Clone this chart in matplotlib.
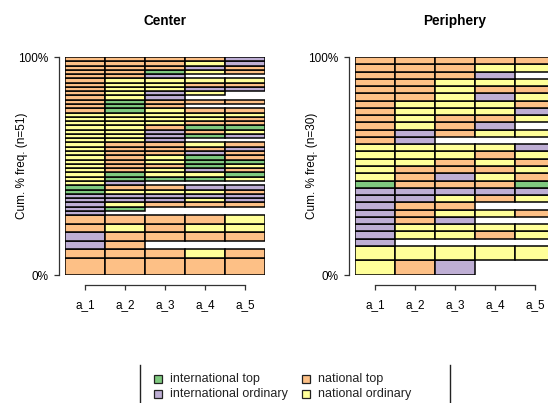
import matplotlib
matplotlib.use("Agg")
import matplotlib.pyplot as plt
from matplotlib.patches import Rectangle
from matplotlib.lines import Line2D

plt.rcParams["font.family"] = ["Liberation Sans", "DejaVu Sans"]

# state alphabet and colours (Accent palette)
states = ["IT", "IO", "NT", "NO"]
state_labels = ["international top", "international ordinary",
                "national top", "national ordinary"]
state_colors = ["#7FC97F", "#BEAED4", "#FDC086", "#FFFF99"]
positions = ["a_1", "a_2", "a_3", "a_4", "a_5"]

# distinct sequences, most frequent first (drawn from the bottom up)
center_seqs = [
    "NT-NT-NT-NT-NT", "NT-NT-NT-NO-NT", "IO-NT", "IO-NT-NT-NT-NT",
    "NT-NO-NT-NO-NO", "NT-NT-NT-NT-NO",
    "IO", "IO-IT", "IO-NO-NT-NT-NT", "IO-IO-IO-NO-IO", "IO-IO-IO-IO-IO",
    "IT-NO-NO-NO-NT", "IT-NT-NT-IO-IO", "NO-IO", "NO-IT-IT-IT-NO",
    "NO-IT-NO-NO-IT", "NO-NT-NO-IO-NT", "NO-NT-NT-IT-NO", "NO-NT-NO-IT-IT",
    "NO-NT-NO-IT-NT", "NO-NT-NT-IO-NT", "NO-NT-NT-NT-IO", "NO-NT-NT-NO-NT",
    "NO-NO-IO", "NO-NO-IO-IT-IO", "NO-NO-IO-NT-NO", "NO-NO-NT-IT-IT",
    "NO-NO-NO-NT-NT", "NO-NO-NO-NO-NT", "NO-NO-NO-NO-NO", "NT-IT-NO-NT-NT",
    "NT-IT-NT", "NT-IT-NT-NT-NT", "NT-NO-IO", "NT-NO-IO-NO",
    "NT-NO-NO-IO-IO", "NT-NO-NO-NT-NT", "NT-NO-NO-NO-NO", "NT-NT-IO",
    "NT-NT-IT-NO-NT", "NT-NT-NT-IO-NT", "NT-NT-NT-NO-IO", "NT-NT-NT-NT-IO",
]
center_freq = [4, 2, 2, 2, 2, 2] + [1] * 37

periphery_seqs = [
    "NO-NT-IO", "NO-NO-NO-NO-NO",
    "IO", "IO-NO-NO-NT-NO", "IO-NO-NO-NO-NO", "IO-NT-IO", "IO-NT-NO-NO-NT",
    "IO-NT-NT", "IO-IO-NO-NT-NO", "IO-IO-IO-IO-IO", "IT-NT-NT-NT-IT",
    "NO-NT-IO-NO-NT", "NO-NT-NT-NT-NO", "NO-NO-NT-NO-NT", "NO-NO-NO-NT-NO",
    "NO-NO-NO-NO-IO", "NT-IO", "NT-IO-NT-NO-NO", "NT-NO-NT-IO",
    "NT-NO-NT-NT-NO", "NT-NO-NO-NO-IO", "NT-NO-NO-NO-NT", "NT-NT-NO-IO-NO",
    "NT-NT-NO-NT-NT", "NT-NT-NO-NO-NO", "NT-NT-NT-IO", "NT-NT-NT-NO-NO",
    "NT-NT-NT-NT-NT",
]
periphery_freq = [2, 2] + [1] * 26

W, H = 548, 403
fig = plt.figure(figsize=(W / 100, H / 100), dpi=100)


def px_box(x0, y0, x1, y1):
    return [x0 / W, 1 - y1 / H, (x1 - x0) / W, (y1 - y0) / H]


def seq_freq_plot(ax, seqs, freq, title):
    n = sum(freq)
    color_of = dict(zip(states, state_colors))
    bottom = 0.0
    for seq, f in zip(seqs, freq):
        h = f / n
        tokens = seq.split("-")
        ax.bar(range(len(tokens)), h, bottom=bottom, width=1, align="edge",
               color=[color_of[t] for t in tokens],
               edgecolor="black", linewidth=1.1)
        bottom += h
    ax.set_xlim(0, 5)
    ax.set_ylim(0, 1)
    for s in ["top", "right"]:
        ax.spines[s].set_visible(False)
    ax.spines["left"].set_position(("outward", 4.3))
    ax.spines["bottom"].set_position(("outward", 7))
    ax.spines["left"].set_bounds(0, 1)
    ax.spines["bottom"].set_bounds(0.5, 4.5)
    for s in ["left", "bottom"]:
        ax.spines[s].set_color("#333333")
        ax.spines[s].set_linewidth(0.9)
    ax.set_xticks([i + 0.5 for i in range(len(positions))])
    ax.set_xticklabels(positions)
    ax.set_yticks([0, 1])
    ax.set_yticklabels(["0%", "100%"])
    ax.tick_params(length=3.6, width=0.9, color="#333333", labelsize=8.5)
    ax.tick_params(axis="x", pad=7)
    ax.tick_params(axis="y", pad=4)
    ax.set_ylabel(f"Cum. % freq. (n={n})", fontsize=8.5)
    ax.yaxis.set_label_coords(-0.185, 0.5)
    ax.set_title(title, fontsize=9.8, fontweight="bold", pad=23)


ax1 = fig.add_axes(px_box(65, 57, 265, 275))
seq_freq_plot(ax1, center_seqs, center_freq, "Center")

ax2 = fig.add_axes(px_box(355, 57, 555, 275))
seq_freq_plot(ax2, periphery_seqs, periphery_freq, "Periphery")

# legend panel below the plots
for xl in (140, 450):
    fig.add_artist(Line2D([xl / W, xl / W], [1 - 365 / H, 0],
                          transform=fig.transFigure, color="#222222", lw=1))
leg_cols = [(154, 170), (302, 318)]
leg_rows = [379, 394]
for i, (lab, col) in enumerate(zip(state_labels, state_colors)):
    sx, tx = leg_cols[i // 2]
    ty = leg_rows[i % 2]
    fig.add_artist(Rectangle((sx / W, 1 - (ty + 4) / H), 8 / W, 8 / H,
                             transform=fig.transFigure, facecolor=col,
                             edgecolor="#222222", lw=0.9))
    fig.text(tx / W, 1 - ty / H, lab, fontsize=9, va="center", ha="left",
             color="#222222")

fig.savefig("out.png", dpi=100)
